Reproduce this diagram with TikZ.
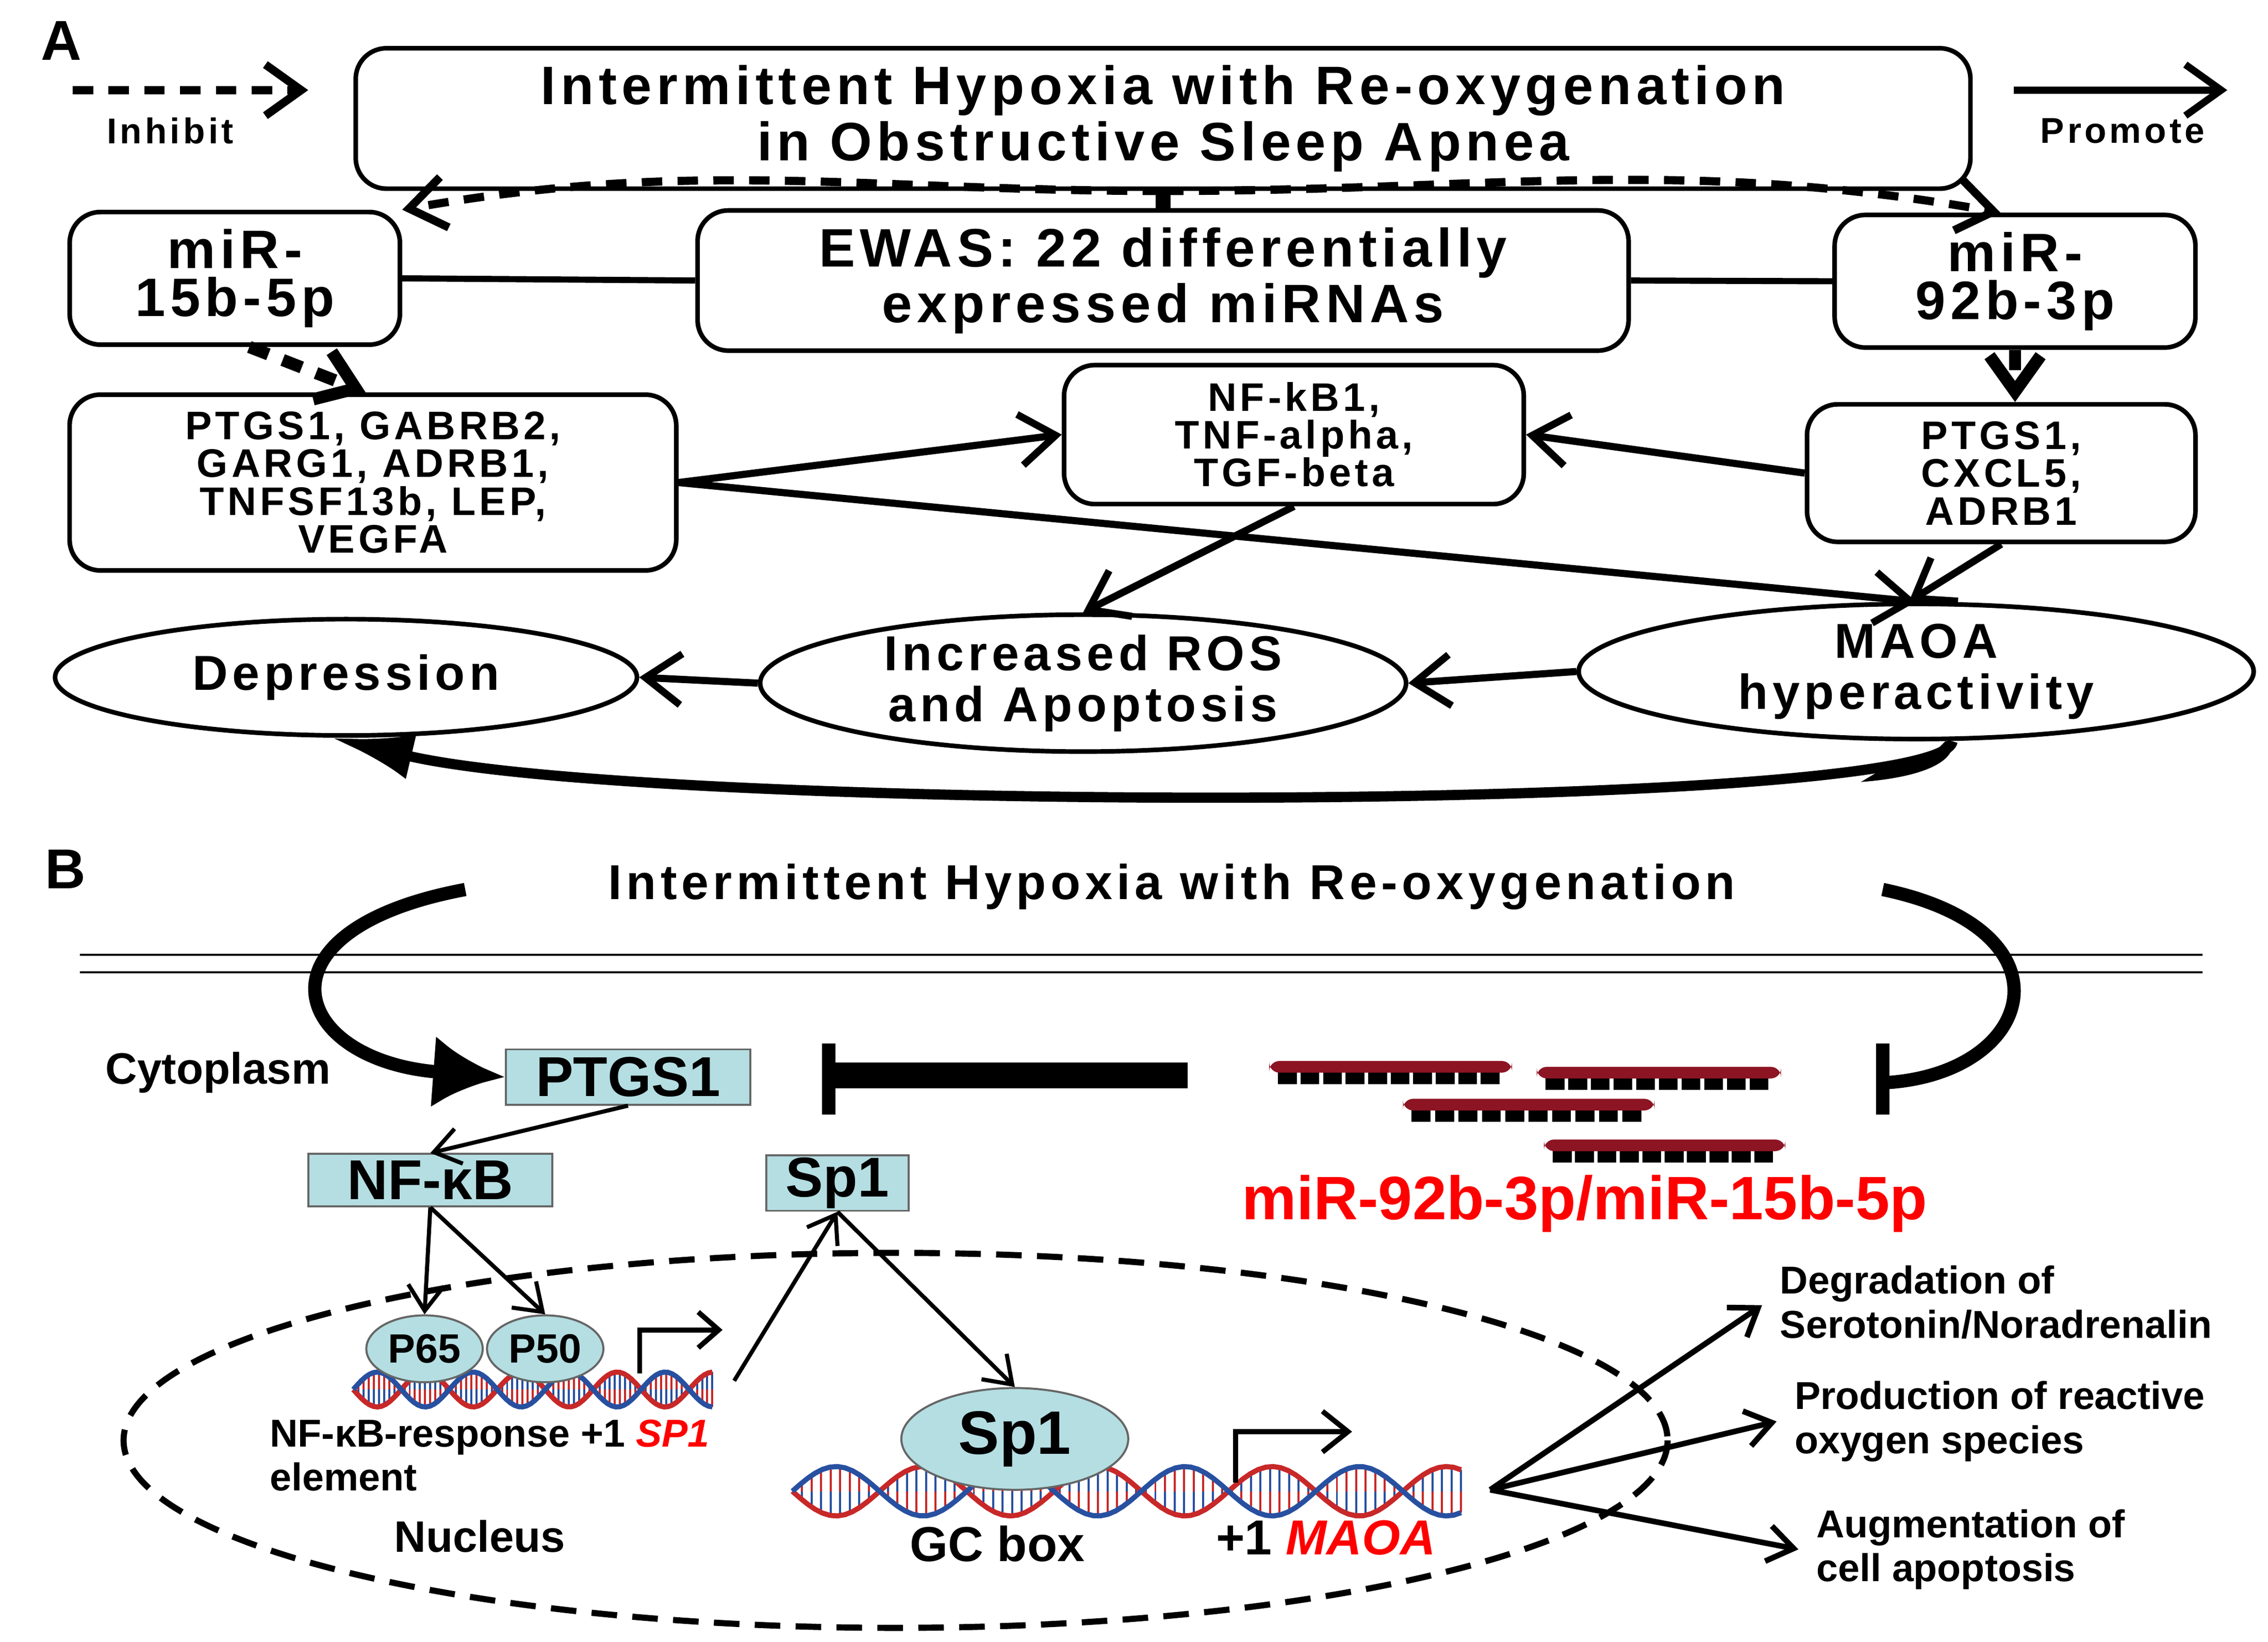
\documentclass[tikz,border=0pt]{standalone}
\usepackage{fontspec}
\setmainfont{Liberation Sans}
\newfontfamily\widefont[LetterSpace=9]{Liberation Sans}
\usetikzlibrary{arrows.meta,positioning,shapes.geometric}

\definecolor{protfill}{RGB}{180,222,226}
\definecolor{rnared}{RGB}{140,20,35}
\definecolor{dnared}{RGB}{200,40,40}
\definecolor{dnablue}{RGB}{40,80,160}

\tikzset{
  box/.style={draw, rounded corners=6pt, line width=0.9pt, align=center, font=\widefont\bfseries},
  oval/.style={draw, ellipse, line width=0.9pt, align=center, font=\widefont\bfseries\fontsize{9.6}{10}\selectfont},
  prot/.style={draw=black!60, fill=protfill, font=\bfseries\fontsize{11}{12}\selectfont, inner sep=0pt},
  promote/.style={line width=1.4pt, -{Straight Barb[length=7pt,width=10pt]}},
  inhibit/.style={line width=1.6pt, dash pattern=on 4pt off 3pt, -{Straight Barb[length=7pt,width=10pt]}},
  thin arrow/.style={line width=0.8pt, -{Straight Barb[length=5pt,width=7pt]}},
}

% double helix: x0, x1, y, half height, period
\newcommand\helix[5]{%
  \foreach \i in {0,...,70}{%
    \pgfmathsetmacro\xx{#1+\i/70*(#2-#1)}
    \pgfmathsetmacro\yy{#4*sin((\xx-#1)/#5*360)}
    \draw[dnared, line width=0.4pt] (\xx,#3) -- (\xx,#3-\yy);
    \draw[dnablue, line width=0.4pt] (\xx,#3) -- (\xx,#3+\yy);
  }
  \draw[dnared, line width=1pt] plot[domain=#1:#2, samples=90] (\x,{#3+#4*sin((\x-#1)/#5*360)});
  \draw[dnablue, line width=1pt] plot[domain=#1:#2, samples=90] (\x,{#3-#4*sin((\x-#1)/#5*360)});
}
% miRNA strand: x0, x1, y
\newcommand\strand[3]{%
  \foreach \k in {0,...,9}
    \fill[black] ({#1+6+\k*(#2-#1-12)/10},#3) rectangle ++(13,10);
  \fill[rnared, rounded corners=2pt] (#1,#3-6) rectangle (#2,#3+2);
}

\begin{document}
\begin{tikzpicture}[x=0.01cm, y=-0.01cm]
\useasboundingbox (0,0) rectangle (1560,1129.5);

% ---- panel A
\node (labA) at (42,28) {\bfseries\fontsize{11}{12}\selectfont A};
\coordinate (inhS) at (50,62);
\coordinate (inhE) at (212,62);
\draw[inhibit] (inhS) -- (inhE);
\node (inh) at (117,90) {\widefont\bfseries\fontsize{7}{8}\selectfont Inhibit};
\coordinate (proS) at (1385,62);
\coordinate (proE) at (1532,62);
\draw[promote] (proS) -- (proE);
\node (pro) at (1460,90) {\widefont\bfseries\fontsize{7}{8}\selectfont Promote};

\node (ih) [box, minimum width=11.1cm, minimum height=0.73cm, font=\widefont\bfseries\fontsize{10.6}{9.4}\selectfont] at (800,81.5)
  {Intermittent Hypoxia with Re-oxygenation\\in Obstructive Sleep Apnea};
\node (mira) [box, minimum width=2.27cm, minimum height=0.67cm, font=\widefont\bfseries\fontsize{10.6}{9.4}\selectfont] at (161.5,191.5) {miR-\\15b-5p};
\node (ewas) [box, minimum width=6.4cm, minimum height=0.7cm, font=\widefont\bfseries\fontsize{10.6}{9.4}\selectfont] at (800,193) {EWAS: 22 differentially\\expressed miRNAs};
\node (mirb) [box, minimum width=2.48cm, minimum height=0.63cm, font=\widefont\bfseries\fontsize{10.6}{9.4}\selectfont] at (1386,193.5) {miR-\\92b-3p};
\node (genesa) [box, minimum width=4.17cm, minimum height=1.2cm, font=\widefont\bfseries\fontsize{7.8}{7.4}\selectfont] at (256.5,332)
  {PTGS1, GABRB2,\\GARG1, ADRB1,\\TNFSF13b, LEP,\\VEGFA};
\node (nfkb) [box, minimum width=3.16cm, minimum height=0.88cm, font=\widefont\bfseries\fontsize{7.8}{7.4}\selectfont] at (890,299) {NF-kB1,\\TNF-alpha,\\TGF-beta};
\node (genesb) [box, minimum width=2.67cm, minimum height=0.85cm, font=\widefont\bfseries\fontsize{7.8}{7.4}\selectfont] at (1376.5,325.5) {PTGS1,\\CXCL5,\\ADRB1};

\node (dep) [oval, minimum width=4cm, minimum height=0.8cm] at (238,466) {Depression};
\node (ros) [oval, minimum width=4.44cm, minimum height=0.88cm, inner sep=0pt] at (745,470) {Increased ROS\\and Apoptosis};
\node (maoa) [oval, minimum width=4.64cm, minimum height=0.84cm, inner sep=0pt] at (1318,462) {MAOA\\hyperactivity};

\draw[line width=3pt] (ih.south) -- (ewas.north);
\draw[line width=1.2pt] (mira.east) -- (ewas.west);
\draw[line width=1.2pt] (ewas.east) -- (mirb.east -| mirb.west);
\draw[inhibit] (ih.south) to[out=180, in=10] (mira.north east);
\draw[inhibit] (ih.south) to[out=0, in=170] ([xshift=-0.1cm]mirb.north);
\draw[inhibit, line width=2.4pt] ([xshift=0.1cm]mira.south) -- ([xshift=-0.05cm]genesa.north);
\draw[inhibit, line width=2.4pt] (mirb.south) -- (mirb.south |- genesb.north);

\draw[promote] (genesa.east) -- (nfkb.west);
\draw[promote] (genesb.west) -- (nfkb.east);
\draw[promote] (genesa.east) -- (maoa.north);
\draw[promote] (nfkb.south) -- (ros.north);
\draw[promote] (genesb.south) -- ([xshift=-0.05cm]maoa.north);
\draw[promote] (maoa.west) -- (ros.east);
\draw[promote] (ros.west) -- (dep.east);
\draw[line width=2pt, -{Latex[length=16pt,width=9pt]}] ([xshift=0.25cm]maoa.south) .. controls (1335,560) and (450,560) .. ([xshift=-0.1cm]dep.south);
\fill ([xshift=0.25cm]maoa.south) .. controls (1345,525) and (1320,535) .. (1280,538) -- (1290,532) .. controls (1325,525) and (1333,515) .. ([xshift=0.2cm]maoa.south) -- cycle;

% ---- panel B
\node (labB) at (45,598) {\bfseries\fontsize{11}{12}\selectfont B};
\node (ihb) at (806,610) {\widefont\bfseries\fontsize{9.6}{10}\selectfont Intermittent Hypoxia with Re-oxygenation};
\coordinate (m1) at (55,657); \coordinate (m2) at (1515,657);
\coordinate (m3) at (55,669); \coordinate (m4) at (1515,669);
\draw[line width=0.4pt] (m1) -- (m2);
\draw[line width=0.4pt] (m3) -- (m4);

\node (cyto) at (150,738) {\bfseries\fontsize{8.6}{9}\selectfont Cytoplasm};
\node (ptgs) [prot, minimum width=1.68cm, minimum height=0.38cm] at (432,741) {PTGS1};
\node (nfkbb) [prot, minimum width=1.68cm, minimum height=0.36cm] at (296,812) {NF-κB};
\node (spa) [prot, minimum width=0.98cm, minimum height=0.38cm] at (576,814) {Sp1};
\node (mirt) at (1090,828) {\color{red}\bfseries\fontsize{12}{13}\selectfont miR-92b-3p/miR-15b-5p};

\coordinate (lc) at (320,612);
\draw[line width=2.6pt, -{Latex[length=14pt,width=14pt]}] (lc) .. controls (170,640) and (200,730) .. (ptgs.west);
\coordinate (rc) at (1295,612);
\coordinate (rend) at (1295,745);
\draw[line width=2.6pt] (rc) .. controls (1430,640) and (1400,740) .. (rend);
\draw[line width=2.6pt] (1295,718) -- (1295,767);
\coordinate (tS) at (817,740);
\coordinate (tE) at (570,740);
\draw[line width=5pt] (tS) -- (tE);
\draw[line width=2.6pt] (570,718) -- (570,767);

\strand{873}{1040}{736}
\strand{1057}{1225}{740}
\strand{965}{1138}{762}
\strand{1062}{1228}{790}

\draw[dashed, line width=1.2pt, dash pattern=on 5pt off 3pt] (616,991) ellipse [x radius=531, y radius=129];

\helix{243}{490}{956}{12}{66}
\node (p65) [ellipse, draw=black!60, fill=protfill, minimum width=0.8cm, minimum height=0.46cm, font=\bfseries\fontsize{8}{9}\selectfont, inner sep=0pt] at (292,928) {P65};
\node (p50) [ellipse, draw=black!60, fill=protfill, minimum width=0.8cm, minimum height=0.46cm, font=\bfseries\fontsize{8}{9}\selectfont, inner sep=0pt] at (375,928) {P50};
\coordinate (pr1) at (440,945);
\coordinate (pr1e) at (497,915);
\draw[line width=1pt, -{Straight Barb[length=4pt,width=7pt]}] (pr1) |- (pr1e);
\coordinate (dnaend) at (505,950);

\helix{545}{1005}{1026}{17}{120}
\node (spb) [ellipse, draw=black!60, fill=protfill, minimum width=1.56cm, minimum height=0.7cm, font=\bfseries\fontsize{12}{13}\selectfont, inner sep=0pt] at (698,990) {Sp1};
\coordinate (pr2) at (850,1020);
\coordinate (pr2e) at (930,985);
\draw[line width=1pt, -{Straight Barb[length=5pt,width=8pt]}] (pr2) |- (pr2e);

\draw[thin arrow] (ptgs.south) -- (nfkbb.north);
\draw[thin arrow] (nfkbb.south) -- (p65.north);
\draw[thin arrow] (nfkbb.south) -- (p50.north);
\draw[thin arrow] (dnaend) -- (spa.south);
\draw[thin arrow] (spa.south) -- (spb.north);

\node (resp) [align=left, anchor=north west, inner sep=0pt, font=\bfseries\fontsize{7.6}{8.6}\selectfont] at (185,976) {NF-κB-response +1 {\color{red}\itshape SP1}\\element};
\node (nuc) at (330,1057) {\bfseries\fontsize{8.6}{9}\selectfont Nucleus};
\node (gc) at (686,1062) {\bfseries\fontsize{9.6}{11}\selectfont GC box};
\node (maoat) at (912,1058) {\bfseries\fontsize{9.6}{11}\selectfont +1 {\color{red}\itshape MAOA}};

\coordinate (fork) at (1025,1025);
\node (deg) [align=left, anchor=west, font=\bfseries\fontsize{7.6}{8.6}\selectfont] at (1212,896) {Degradation of\\Serotonin/Noradrenalin};
\node (prod) [align=left, anchor=west, font=\bfseries\fontsize{7.6}{8.6}\selectfont] at (1222,978) {Production of reactive\\oxygen species};
\node (aug) [align=left, anchor=west, font=\bfseries\fontsize{7.6}{8.6}\selectfont] at (1237,1066) {Augmentation of\\cell apoptosis};
\draw[thin arrow, line width=1.1pt] (fork) -- (deg.west |- 0,898);
\draw[thin arrow, line width=1.1pt] (fork) -- (prod.west);
\draw[thin arrow, line width=1.1pt] (fork) -- (aug.west);
\end{tikzpicture}
\end{document}
